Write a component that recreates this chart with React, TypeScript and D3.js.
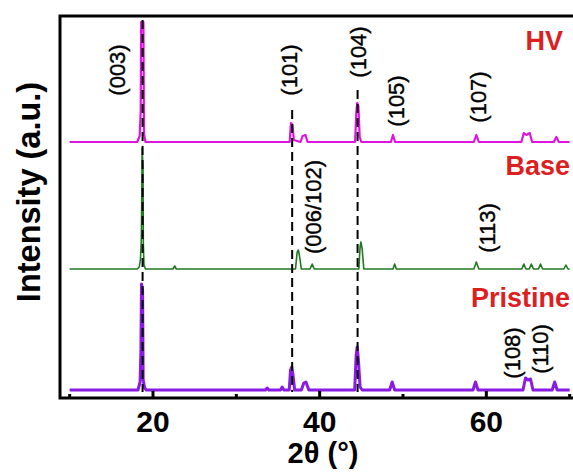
import React, { useEffect, useRef } from 'react';
import * as d3 from 'd3';

type Pt = [number, number];

// XRD traces: [2θ, intensity] vertices (a.u., each above its own baseline)
const hvTrace: Pt[] = [
  [10, 0], [18.1, 0], [18.4, 6], [18.52, 30], [18.58, 120], [18.85, 120], [18.92, 8], [19.1, 0],
  [36.4, 0], [36.55, 19], [36.75, 17], [36.9, 2], [37.7, 0], [37.95, 6], [38.3, 7], [38.55, 0],
  [44.25, 0], [44.4, 30], [44.5, 39], [44.65, 36], [44.8, 5], [45.0, 0],
  [48.55, 0], [48.8, 7], [49.05, 0],
  [58.5, 0], [58.8, 7], [59.1, 0],
  [64.2, 0], [64.5, 9], [64.8, 7], [65.2, 9], [65.5, 0],
  [68.1, 0], [68.4, 5], [68.7, 0], [70, 0],
];

const baseTrace: Pt[] = [
  [10, 0], [18.1, 0], [18.35, 2], [18.5, 10], [18.6, 30], [18.65, 70], [18.7, 121], [18.8, 100],
  [18.84, 25], [18.92, 4], [19.1, 0],
  [22.4, 0], [22.6, 3], [22.8, 0],
  [37.1, 0], [37.3, 17], [37.45, 19], [37.6, 12], [37.8, 0],
  [38.85, 0], [39.1, 5], [39.35, 0],
  [44.7, 0], [44.85, 22], [44.95, 27], [45.1, 20], [45.3, 0],
  [48.8, 0], [49.0, 5], [49.2, 0],
  [58.5, 0], [58.8, 7], [59.1, 0],
  [64.25, 0], [64.5, 5], [64.75, 0], [65.15, 0], [65.4, 5], [65.65, 0], [66.25, 0], [66.5, 5], [66.75, 0],
  [69.3, 0], [69.55, 4], [69.8, 0], [70, 0],
];

const pristineTrace: Pt[] = [
  [10, 0], [18.2, 0], [18.45, 8], [18.55, 40], [18.62, 106], [18.75, 100], [18.82, 10], [19.0, 2], [19.2, 0],
  [33.5, 0], [33.7, 2], [33.9, 0], [35.3, 0], [35.5, 3], [35.7, 0],
  [36.35, 0], [36.5, 20], [36.65, 23], [36.8, 15], [37.0, 0],
  [37.8, 0], [38.1, 7], [38.35, 8], [38.7, 0],
  [44.2, 0], [44.38, 35], [44.5, 43], [44.65, 30], [44.85, 3], [45.1, 0],
  [48.4, 0], [48.7, 8], [49.0, 0],
  [58.4, 0], [58.7, 8], [59.0, 0],
  [64.4, 0], [64.7, 12], [65.0, 10], [65.3, 11], [65.6, 0],
  [67.9, 0], [68.2, 8], [68.5, 0], [70, 0],
];

const seriesNames = ['HV', 'Base', 'Pristine'];
const seriesOffsets = [256, 129, 8];

// reference lines: [2θ, top intensity, bottom intensity]
const refLines: [number, number, number][] = [
  [18.75, 378, 6],
  [36.7, 288, 6],
  [44.55, 308, 6],
];

// (hkl) labels: [text, 2θ, intensity at label centre]
const hklLabels: [string, number, number][] = [
  ['(003)', 15.7, 328],
  ['(101)', 36.4, 328],
  ['(104)', 44.7, 346],
  ['(105)', 49.2, 297],
  ['(107)', 59.1, 301],
  ['(006/102)', 39.2, 191],
  ['(113)', 60.1, 170],
  ['(108)', 63.1, 45],
  ['(110)', 66.5, 49],
];

const majorTicks = [20, 40, 60];
const minorTicks = [10, 30, 50, 70];

const W = 573;
const H = 474;

export default function App() {
  const svgRef = useRef<SVGSVGElement>(null);

  useEffect(() => {
    if (!svgRef.current) return;
    const svg = d3.select(svgRef.current);
    svg.selectAll('*').remove();

    const left = 60;
    const top = 16;
    const bottom = 398;
    const font = '"Liberation Sans", Arial, sans-serif';

    const x = d3.scaleLinear().domain([8.84, 71]).range([left, 578]);
    const y = d3.scaleLinear().domain([0, 382]).range([bottom, top]);

    const traces = [hvTrace, baseTrace, pristineTrace];
    const colors = ['#e014e0', '#1f7a1f', '#8a1be2'];
    const widths = [2.2, 1.6, 3];

    traces.forEach((trace, i) => {
      const line = d3
        .line<Pt>()
        .x((d) => x(d[0]))
        .y((d) => y(d[1] + seriesOffsets[i]));
      svg
        .append('path')
        .datum(trace)
        .attr('d', line)
        .attr('fill', 'none')
        .attr('stroke', colors[i])
        .attr('stroke-width', widths[i])
        .attr('stroke-linejoin', 'round');
    });

    // dashed reference lines, drawn over the traces
    svg
      .append('g')
      .selectAll('line')
      .data(refLines)
      .enter()
      .append('line')
      .attr('x1', (d) => x(d[0]))
      .attr('x2', (d) => x(d[0]))
      .attr('y1', (d) => y(d[1]))
      .attr('y2', (d) => y(d[2]))
      .attr('stroke', '#000')
      .attr('stroke-width', 2)
      .attr('stroke-dasharray', '9,5');

    // frame
    const frame = svg.append('g').attr('stroke', '#000').attr('stroke-width', 3).attr('fill', 'none');
    frame.append('path').attr('d', `M${W + 5},${top}H${left}V${bottom}H${W + 5}`);

    // ticks (inward)
    svg
      .append('g')
      .selectAll('line')
      .data(majorTicks)
      .enter()
      .append('line')
      .attr('x1', (d) => x(d))
      .attr('x2', (d) => x(d))
      .attr('y1', bottom)
      .attr('y2', bottom - 7)
      .attr('stroke', '#000')
      .attr('stroke-width', 3);
    svg
      .append('g')
      .selectAll('line')
      .data(minorTicks)
      .enter()
      .append('line')
      .attr('x1', (d) => x(d))
      .attr('x2', (d) => x(d))
      .attr('y1', bottom)
      .attr('y2', bottom - 4)
      .attr('stroke', '#000')
      .attr('stroke-width', 3);

    svg
      .append('g')
      .selectAll('text')
      .data(majorTicks)
      .enter()
      .append('text')
      .attr('x', (d) => x(d))
      .attr('y', 432)
      .attr('text-anchor', 'middle')
      .attr('font-family', font)
      .attr('font-weight', 'bold')
      .attr('font-size', 30)
      .text((d) => d);

    svg
      .append('text')
      .attr('x', 323)
      .attr('y', 463)
      .attr('text-anchor', 'middle')
      .attr('font-family', font)
      .attr('font-weight', 'bold')
      .attr('font-size', 29)
      .text('2θ (°)');

    svg
      .append('text')
      .attr('transform', 'translate(40,192) rotate(-90)')
      .attr('text-anchor', 'middle')
      .attr('font-family', font)
      .attr('font-weight', 'bold')
      .attr('font-size', 32.5)
      .text('Intensity (a.u.)');

    // hkl labels
    svg
      .append('g')
      .selectAll('text')
      .data(hklLabels)
      .enter()
      .append('text')
      .attr('transform', (d) => `translate(${x(d[1])},${y(d[2])}) rotate(-90)`)
      .attr('text-anchor', 'middle')
      .attr('dominant-baseline', 'central')
      .attr('font-family', font)
      .attr('font-size', 22)
      .attr('fill', '#000')
      .attr('stroke', '#000')
      .attr('stroke-width', 0.4)
      .text((d) => d[0]);

    // series names
    const nameY = [50, 175, 307];
    svg
      .append('g')
      .selectAll('text')
      .data(seriesNames)
      .enter()
      .append('text')
      .attr('x', (d, i) => (i === 0 ? 563 : 570))
      .attr('y', (d, i) => nameY[i])
      .attr('text-anchor', 'end')
      .attr('font-family', font)
      .attr('font-weight', 'bold')
      .attr('font-size', 27)
      .attr('fill', '#dc1f1f')
      .text((d) => d);
  }, []);

  return (
    <svg
      ref={svgRef}
      width={W}
      height={H}
      style={{ position: 'absolute', left: 0, top: 0, background: '#fff' }}
    />
  );
}
